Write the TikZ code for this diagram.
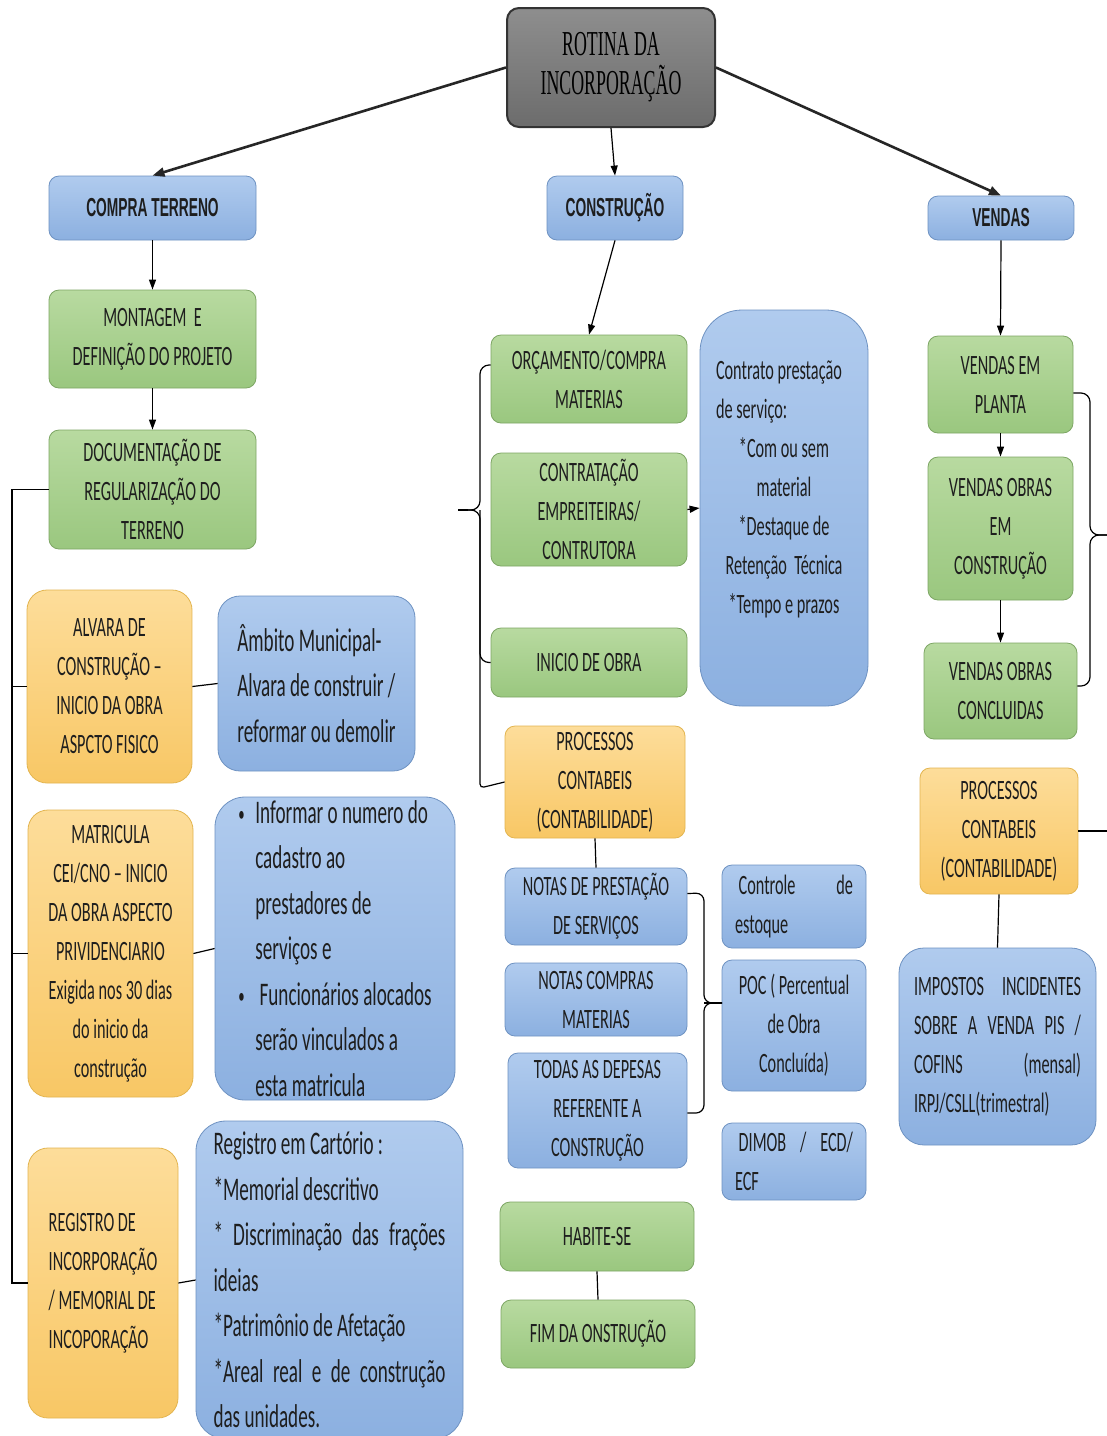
\documentclass[tikz,border=0pt]{standalone}
\usepackage{fontspec}
\setmainfont[FakeStretch=0.58]{Carlito}
\newfontfamily\hdfont[FakeStretch=0.53]{Liberation Sans}
\newfontfamily\ttlfont[FakeStretch=0.51]{Liberation Serif}
\usetikzlibrary{arrows.meta}
\definecolor{bluetop}{HTML}{B0CBEE}
\definecolor{bluebot}{HTML}{8CB0E0}
\definecolor{blueline}{HTML}{6E92C2}
\definecolor{greentop}{HTML}{B8DAA0}
\definecolor{greenbot}{HTML}{9AC77F}
\definecolor{greenline}{HTML}{7DA664}
\definecolor{orangetop}{HTML}{FDDD9A}
\definecolor{orangebot}{HTML}{F8C765}
\definecolor{orangeline}{HTML}{E3B550}
\definecolor{graytop}{HTML}{8E8E8E}
\definecolor{graybot}{HTML}{6C6C6C}
\definecolor{txt}{HTML}{1E1E1E}
\newcommand\bodyfs{\fontsize{28pt}{39pt}\selectfont}
\newcommand\bigfs{\fontsize{33pt}{45.5pt}\selectfont}
\newcommand\bul{\makebox[17pt][l]{\fontsize{22pt}{22pt}\selectfont\raisebox{2pt}{•}}}
\newcommand\ind{\hspace*{17pt}}
\tikzset{
  sz/.style 2 args={minimum width=#1pt, minimum height=#2pt},
  box/.style={draw, rounded corners=10pt, inner sep=0pt, line width=0.8pt,
    align=center, text=txt, font=\bodyfs},
  bluebox/.style={box, draw=blueline, top color=bluetop, bottom color=bluebot},
  greenbox/.style={box, draw=greenline, top color=greentop, bottom color=greenbot},
  orangebox/.style={box, draw=orangeline, top color=orangetop, bottom color=orangebot},
  hdbox/.style={bluebox, font={\hdfont\bfseries\fontsize{26pt}{30pt}\selectfont}},
  titlebox/.style={box, rounded corners=12pt, draw=black!80, line width=2pt,
    top color=graytop, bottom color=graybot, text=black,
    font={\ttlfont\fontsize{35pt}{39pt}\selectfont}},
  bodytext/.style={inner sep=0pt, text=txt, font=\bodyfs},
  conn/.style={draw=black, line width=1.2pt},
  arr/.style={conn, -{Triangle[length=10pt,width=7pt]}},
  bigarr/.style={draw=black!85, line width=2.6pt, -{Triangle[length=12pt,width=9pt]}},
}
\begin{document}
\begin{tikzpicture}[x=1pt,y=-1pt]
\useasboundingbox[fill=white] (0,0) rectangle (1107,1436);

% top
\node[titlebox, sz={208}{119}] (title) at (611,67.5) {ROTINA DA\\INCORPORAÇÃO};
\node[hdbox, sz={207}{64}] (compra) at (152.5,208) {COMPRA TERRENO};
\node[hdbox, sz={136}{64}] (constr) at (615,208) {CONSTRUÇÃO};
\node[hdbox, sz={146}{44}] (vendas) at (1001,218) {VENDAS};

% left column
\node[greenbox, sz={207}{98}] (montagem) at (152.5,339) {MONTAGEM\ \ E\\DEFINIÇÃO DO PROJETO};
\node[greenbox, sz={207}{119}] (doc) at (152.5,489.5) {DOCUMENTAÇÃO DE\\REGULARIZAÇÃO DO\\TERRENO};
\node[orangebox, sz={165}{193}, rounded corners=20pt] (alvara) at (109.5,686.5) {ALVARA DE\\CONSTRUÇÃO –\\INICIO DA OBRA\\ASPCTO FISICO};
\node[bluebox, sz={197}{175}, rounded corners=22pt, align=left, font=\bigfs] (ambito) at (316.5,683.5) {Âmbito Municipal-\\Alvara de construir /\\reformar ou demolir};
\node[orangebox, sz={165}{287}, rounded corners=20pt] (matricula) at (110.5,953.5) {MATRICULA\\CEI/CNO – INICIO\\DA OBRA ASPECTO\\PRIVIDENCIARIO\\Exigida nos 30 dias\\do inicio da\\construção};
\node[bluebox, sz={240}{303}, rounded corners=30pt, align=left, font=\bigfs] (informar) at (335,948.5) {\bul Informar o numero do\\\ind cadastro ao\\\ind prestadores de\\\ind serviços e\\\bul\ Funcionários alocados\\\ind serão vinculados a\\\ind esta matricula};
\node[orangebox, sz={150}{270}, rounded corners=20pt, align=left] (registroinc) at (103,1283) {REGISTRO DE\\INCORPORAÇÃO\\/ MEMORIAL DE\\INCOPORAÇÃO};
\node[bluebox, sz={267}{318}, rounded corners=30pt, font=\bigfs, text width=232pt, align=flush left] (cartorio) at (329.5,1280) {Registro em Cartório :\\{}*Memorial descritivo\\{}*\hfill Discriminação\hfill das\hfill frações\\ideias\\{}*Patrimônio de Afetação\\{}*Areal\hfill real\hfill e\hfill de\hfill construção\\das unidades.};

% middle column
\node[greenbox, sz={196}{88}] (orc) at (589,379) {ORÇAMENTO/COMPRA\\MATERIAS};
\node[greenbox, sz={196}{113}] (contrat) at (589,509.5) {CONTRATAÇÃO\\EMPREITEIRAS/\\CONTRUTORA};
\node[greenbox, sz={196}{69}] (inicio) at (589,662.5) {INICIO DE OBRA};
\node[bluebox, sz={168}{396}, rounded corners=42pt] (contrato) at (784,508) {};
\node[bodytext, text width=136pt, align=flush center] (contratoT) at (784,489) {\makebox[136pt][l]{Contrato prestação}\\\makebox[136pt][l]{de serviço:}\\{}*Com ou sem\\material\\{}*Destaque de\\Retenção\ \ Técnica\\{}*Tempo e prazos};
\node[orangebox, sz={180}{112}] (proc1) at (595,782) {PROCESSOS\\CONTABEIS\\(CONTABILIDADE)};
\node[bluebox, sz={182}{77}] (notas1) at (596,906.5) {NOTAS DE PRESTAÇÃO\\DE SERVIÇOS};
\node[bluebox, sz={182}{73}] (notas2) at (596,999.5) {NOTAS COMPRAS\\MATERIAS};
\node[bluebox, sz={179}{115}] (todas) at (597.5,1110.5) {TODAS AS DEPESAS\\REFERENTE A\\CONSTRUÇÃO};
\node[bluebox, sz={144}{83}, text width=118pt, align=flush left] (controle) at (794,906.5) {\ Controle\hfill de\\estoque};
\node[bluebox, sz={144}{131}] (poc) at (794,1025.5) {POC ( Percentual\\de Obra\\Concluída)};
\node[bluebox, sz={144}{77}, text width=118pt, align=flush left] (dimob) at (794,1161.5) {\ DIMOB\hfill /\hfill ECD/\\ECF};
\node[greenbox, sz={194}{69}] (habite) at (597,1236.5) {HABITE-SE};
\node[greenbox, sz={194}{68}] (fim) at (598,1334) {FIM DA ONSTRUÇÃO};

% right column
\node[greenbox, sz={145}{97}] (planta) at (1000.5,384.5) {VENDAS EM\\PLANTA};
\node[greenbox, sz={145}{143}] (obrasem) at (1000.5,528.5) {VENDAS OBRAS\\EM\\CONSTRUÇÃO};
\node[greenbox, sz={153}{96}] (concl) at (1000.5,691) {VENDAS OBRAS\\CONCLUIDAS};
\node[orangebox, sz={158}{126}] (proc2) at (999,831) {PROCESSOS\\CONTABEIS\\(CONTABILIDADE)};
\node[bluebox, sz={197}{197}, rounded corners=25pt, text width=167pt, align=flush left] (impostos) at (997.5,1046.5) {IMPOSTOS\hfill INCIDENTES\\SOBRE\hfill A\hfill VENDA\hfill PIS\hfill /\\COFINS\hfill (mensal)\\IRPJ/CSLL(trimestral)};

% helper coordinates
\coordinate (lA) at (12,489.5);
\coordinate (lB) at (12,686.5);
\coordinate (lC) at (12,953.5);
\coordinate (lD) at (12,1283);
\coordinate (mTop) at (480,365);
\coordinate (mMid) at (480,510);
\coordinate (mTip) at (458,510);
\coordinate (mBot) at (480,662.5);
\coordinate (mLow) at (480,788);
\coordinate (rTop) at (1090,393);
\coordinate (rMid) at (1090,535);
\coordinate (rTip) at (1110,535);
\coordinate (rBot) at (1090,686);
\coordinate (pOut) at (1110,831);
\coordinate (nTop) at (704,893);
\coordinate (nMid) at (704,1003);
\coordinate (nTip) at (722,1003);
\coordinate (nBot) at (704,1113);

% arrows from title
\draw[bigarr] (title.west) -- (compra.north);
\draw[bigarr] (title.east) -- (vendas.north);
\draw[arr] (title.south) -- (constr.north);

% left column connectors
\draw[arr] (compra.south) -- (montagem.north);
\draw[arr] (montagem.south) -- (doc.north);
\draw[conn] (doc.west) -- (lA) -- (lD) -- (registroinc.west);
\draw[conn] (lB) -- (alvara.west);
\draw[conn] (lC) -- (matricula.west);
\draw[conn] (alvara.east) -- (ambito.west);
\draw[conn] (matricula.east) -- (informar.west);
\draw[conn] (registroinc.east) -- (cartorio.west);

% middle column connectors
\draw[arr] (constr.south) -- (orc.north);
\draw[conn, rounded corners=9pt] ([yshift=14pt]orc.west) -- (mTop) -- (mMid) -- (mTip);
\draw[conn, rounded corners=9pt] (mTip) -- (mMid) -- (mBot) -- (inicio.west);
\draw[conn, line width=2.4pt] (mTip) -- ++(10,0);
\draw[conn, rounded corners=4pt] (mMid) -- (mLow) -- (proc1.west);
\draw[arr] (contrat.east) -- (contrato.west);
\draw[conn] (proc1.south) -- (notas1.north);
\draw[conn, rounded corners=8pt] ([yshift=13pt]notas1.east) -- (nTop) -- (nMid) -- (nTip);
\draw[conn, rounded corners=8pt] (nTip) -- (nMid) -- (nBot) -- ([yshift=-2.5pt]todas.east);
\draw[conn, line width=2.4pt] (nMid) -- (nTip);
\draw[conn] (habite.south) -- (fim.north);

% right column connectors
\draw[arr] (vendas.south) -- (planta.north);
\draw[arr] (planta.south) -- (obrasem.north);
\draw[arr] (obrasem.south) -- (concl.north);
\draw[conn, rounded corners=9pt] ([yshift=-8.5pt]planta.east) -- (rTop) -- (rMid) -- (rTip);
\draw[conn, rounded corners=9pt] (rTip) -- (rMid) -- (rBot) -- ([yshift=5pt]concl.east);
\draw[conn] (proc2.east) -- (pOut);
\draw[conn] (proc2.south) -- (impostos.north);
\end{tikzpicture}
\end{document}
